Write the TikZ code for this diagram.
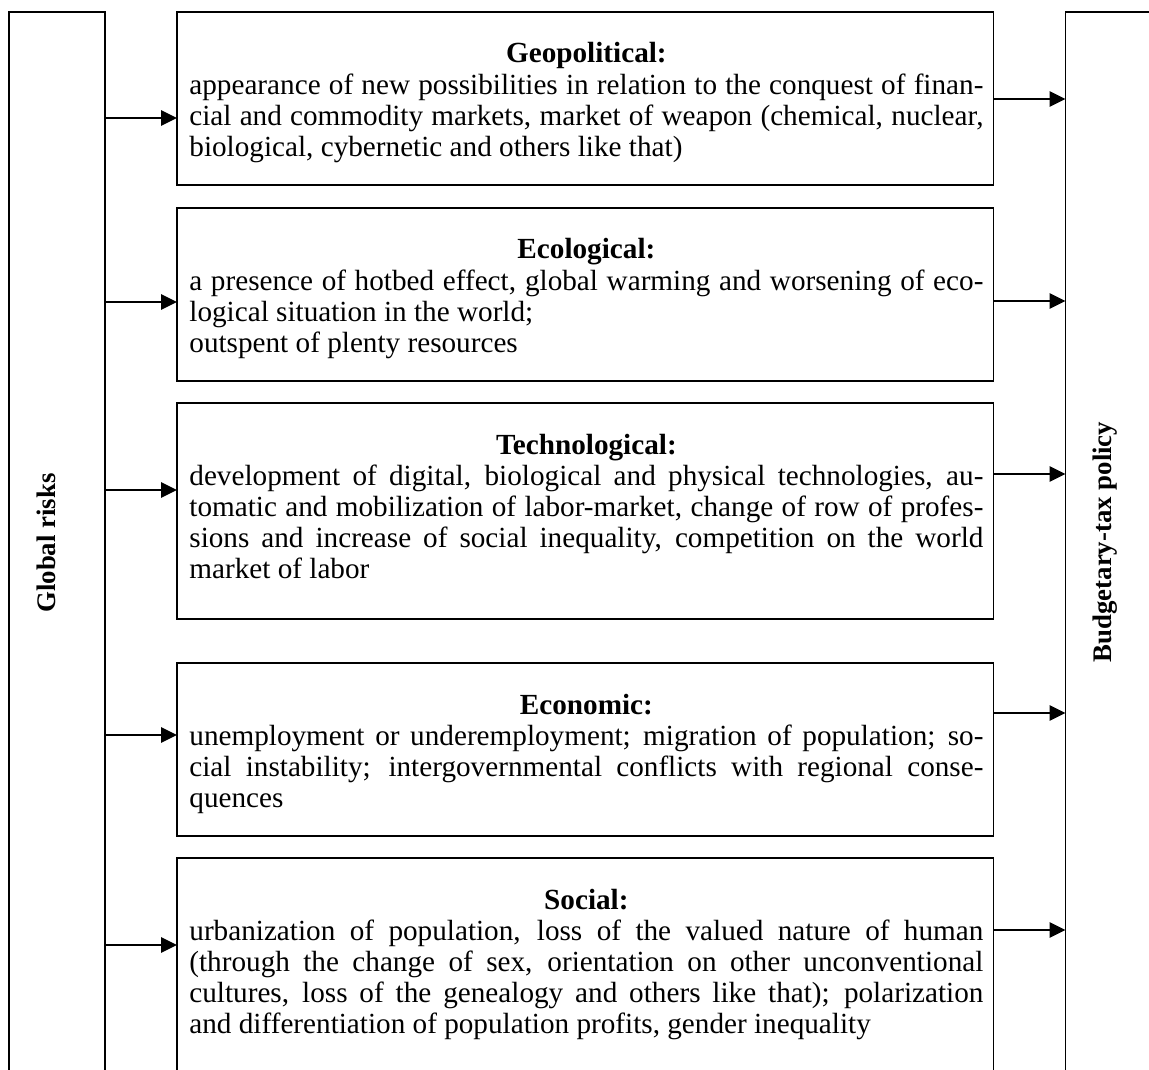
\documentclass[tikz,border=0pt]{standalone}
\usepackage{fontspec}
\setmainfont{Liberation Serif}
\usetikzlibrary{arrows.meta}
\newdimen\jw \jw=397pt
\newcommand\Jl[1]{\hbox to \jw{#1}}
\newcommand\Ll[1]{\hbox to \jw{#1\hfil}}
\newcommand\Tl[1]{\hbox to \jw{\hfil\bfseries #1\hfil}}
\hbadness=10000 \hfuzz=8pt
\begin{document}
\begin{tikzpicture}[x=0.5pt,y=-0.5pt,
  box/.style={draw, line width=0.95pt, inner sep=0pt, outer sep=0pt, anchor=north west},
  mid/.style={box, minimum width=408.25pt},
  side/.style={box, minimum width=48pt, minimum height=532pt},
  txt/.style={inner sep=0pt, anchor=base west, font=\fontsize{14.6}{15.6}\selectfont},
  vlab/.style={rotate=90, inner sep=0pt, font=\fontsize{13.4}{16}\selectfont\bfseries},
  arr/.style={line width=1.1pt, -{Triangle[length=8pt,width=7.6pt]}}]
\useasboundingbox (0,0) rectangle (1149,1069);
\clip (0,0) rectangle (1149,1069);

% side boxes
\node[side] (gl) at (9,12) {};
\node[side] (bt) at (1065.5,12) {};
\node[vlab] (glT) at (46,543) {Global risks};
\node[vlab] (btT) at (1105,542) {Budgetary-tax policy};

% middle boxes
\node[mid, minimum height=86.5pt] (geo) at (177,12) {};
\node[mid, minimum height=86.5pt] (eco) at (177,208) {};
\node[mid, minimum height=108pt]  (tec) at (177,403) {};
\node[mid, minimum height=86.5pt] (ecn) at (177,663) {};
\node[mid, minimum height=111pt]  (soc) at (177,858) {};

% texts
\node[txt] (geoT) at (189,63) {\vtop{%
  \Tl{Geopolitical:}
  \Jl{appearance of new possibilities in relation to the conquest of finan-}
  \Jl{cial and commodity markets, market of weapon (chemical, nuclear,}
  \Ll{biological, cybernetic and others like that)}}};
\node[txt] (ecoT) at (189,259) {\vtop{%
  \Tl{Ecological:}
  \Jl{a presence of hotbed effect, global warming and worsening of eco-}
  \Ll{logical situation in the world;}
  \Ll{outspent of plenty resources}}};
\node[txt] (tecT) at (189,454) {\vtop{%
  \Tl{Technological:}
  \Jl{development of digital, biological and physical technologies, au-}
  \Jl{tomatic and mobilization of labor-market, change of row of profes-}
  \Jl{sions and increase of social inequality, competition on the world}
  \Ll{market of labor}}};
\node[txt] (ecnT) at (189,714) {\vtop{%
  \Tl{Economic:}
  \Jl{unemployment or underemployment; migration of population; so-}
  \Jl{cial instability; intergovernmental conflicts with regional conse-}
  \Ll{quences}}};
\node[txt] (socT) at (189,909) {\vtop{%
  \Tl{Social:}
  \Jl{urbanization of population, loss of the valued nature of human}
  \Jl{(through the change of sex, orientation on other unconventional}
  \Jl{cultures, loss of the genealogy and others like that); polarization}
  \Ll{and differentiation of population profits, gender inequality}}};

% arrow levels
\coordinate (a1) at (0,118); \coordinate (b1) at (0,99);
\coordinate (a2) at (0,302); \coordinate (b2) at (0,301);
\coordinate (a3) at (0,490); \coordinate (b3) at (0,474);
\coordinate (a4) at (0,735); \coordinate (b4) at (0,713);
\coordinate (a5) at (0,945); \coordinate (b5) at (0,930);

\draw[arr] (gl.east |- a1) -- (geo.west |- a1);
\draw[arr] (gl.east |- a2) -- (eco.west |- a2);
\draw[arr] (gl.east |- a3) -- (tec.west |- a3);
\draw[arr] (gl.east |- a4) -- (ecn.west |- a4);
\draw[arr] (gl.east |- a5) -- (soc.west |- a5);

\draw[arr] (geo.east |- b1) -- (bt.west |- b1);
\draw[arr] (eco.east |- b2) -- (bt.west |- b2);
\draw[arr] (tec.east |- b3) -- (bt.west |- b3);
\draw[arr] (ecn.east |- b4) -- (bt.west |- b4);
\draw[arr] (soc.east |- b5) -- (bt.west |- b5);
\end{tikzpicture}
\end{document}
